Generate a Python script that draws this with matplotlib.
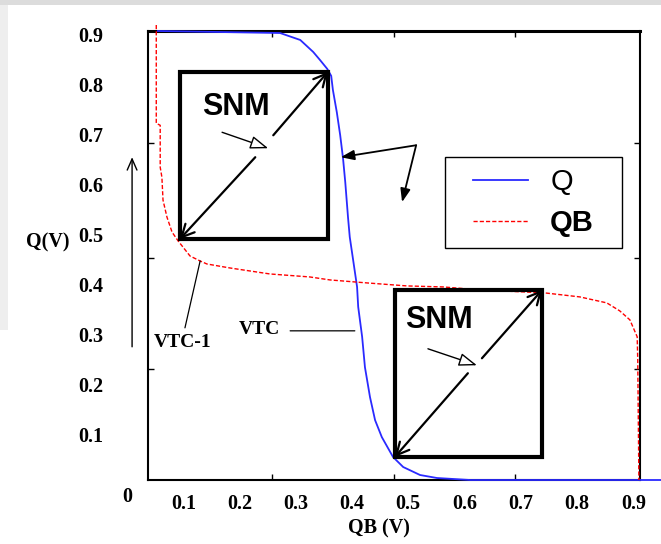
import numpy as np
import matplotlib.pyplot as plt
from matplotlib.patches import Rectangle
from matplotlib.transforms import ScaledTranslation

# VTC curve (Q vs QB)
q_x = [0.055, 0.272, 0.308, 0.331, 0.343, 0.356, 0.363, 0.366, 0.373, 0.379,
       0.384, 0.388, 0.393, 0.396, 0.402, 0.409, 0.411, 0.418, 0.423, 0.432,
       0.441, 0.453, 0.473, 0.491, 0.521, 0.551, 0.610, 0.949]
q_y = [0.900, 0.896, 0.882, 0.858, 0.842, 0.824, 0.810, 0.782, 0.737, 0.691,
       0.645, 0.597, 0.525, 0.487, 0.441, 0.387, 0.347, 0.287, 0.226, 0.166,
       0.120, 0.086, 0.046, 0.026, 0.010, 0.004, 0.0, 0.0]

# VTC-1 curve (QB)
qb_x = [0.052, 0.052, 0.059, 0.059, 0.062, 0.064, 0.071, 0.080, 0.091, 0.112,
        0.130, 0.142, 0.183, 0.254, 0.325, 0.361, 0.427, 0.498, 0.562, 0.628,
        0.743, 0.805, 0.853, 0.876, 0.894, 0.907, 0.908, 0.910]
qb_y = [0.912, 0.715, 0.711, 0.627, 0.607, 0.561, 0.527, 0.497, 0.479, 0.449,
        0.439, 0.433, 0.425, 0.413, 0.407, 0.401, 0.395, 0.389, 0.387, 0.381,
        0.375, 0.367, 0.355, 0.339, 0.321, 0.287, 0.240, 0.0]

tick_vals = [0.1, 0.2, 0.3, 0.4, 0.5, 0.6, 0.7, 0.8, 0.9]
tick_labels = ['0.1', '0.2', '0.3', '0.4', '0.5', '0.6', '0.7', '0.8', '0.9']
minor_x = [0.258, 0.475, 0.690]
minor_y = [0.222, 0.445, 0.675]

# SNM squares (lower-left, upper-right)
snm_boxes = [((0.094, 0.483), (0.357, 0.818)),
             ((0.476, 0.046), (0.738, 0.381))]

plt.rcParams['font.family'] = 'Liberation Serif'
plt.rcParams['font.weight'] = 'bold'

fig = plt.figure(figsize=(6.61, 5.44), dpi=100)
# faint grey edges of the scanned picture
fig.add_artist(Rectangle((0, 1 - 5/544), 1, 5/544, transform=fig.transFigure,
                         color='#dcdcdc', lw=0, zorder=0))
fig.add_artist(Rectangle((0, 1 - 330/544), 8/661, 325/544, transform=fig.transFigure,
                         color='#eeeeee', lw=0, zorder=0))

ax = fig.add_axes([148/661, 64/544, 492/661, 449/544])
ax.plot(q_x, q_y, color='#2a2aff', lw=1.3, clip_on=False, label='Q', zorder=3)
ax.plot(qb_x, qb_y, color='red', lw=1.0, ls=(0, (3, 1.5)), clip_on=False, label='QB', zorder=3)

ax.set_xlim(0.0373, 0.912)
ax.set_ylim(0, 0.9)

for s in ax.spines.values():
    s.set_linewidth(1.5)
ax.spines['top'].set_linewidth(2.2)

ax.set_xticks(tick_vals)
ax.set_xticklabels(tick_labels)
ax.set_yticks(tick_vals)
ax.set_yticklabels(tick_labels)
ax.set_xticks(minor_x, minor=True)
ax.set_yticks(minor_y, minor=True)
ax.tick_params(which='major', length=0, labelsize=14.5)
ax.tick_params(axis='y', which='major', pad=32)
ax.tick_params(axis='x', which='major', pad=10)
ax.tick_params(which='minor', direction='in', length=4, width=1,
               top=True, right=True)
off = ScaledTranslation(0, -0.04, fig.dpi_scale_trans)
for lab in ax.get_yticklabels():
    lab.set_transform(lab.get_transform() + off)

ax.set_ylabel('Q(V)', rotation=0, fontsize=14.5, fontweight='bold',
              ha='center', va='center')
ax.yaxis.set_label_coords(-0.203, 0.529)
ax.set_xlabel('QB (V)', fontsize=14.5, fontweight='bold', va='center')
ax.xaxis.set_label_coords(0.47, -0.109)
ax.text(0.0, -0.034, '0', fontsize=14.5, ha='center', va='center')

# legend: entries without frame, frame drawn as a box around them
leg = ax.legend(loc='center', bbox_to_anchor=(0.7835, 0.618),
                prop={'family': 'Liberation Sans', 'size': 21},
                frameon=False, handlelength=1.9, handletextpad=0.75,
                borderpad=0.5, labelspacing=0.45, borderaxespad=0)
leg.get_texts()[0].set_fontweight('normal')
leg.get_texts()[1].set_fontweight('bold')
ax.add_patch(Rectangle((0.604, 0.517), 0.359, 0.202, transform=ax.transAxes,
                       fill=False, ec='black', lw=1.0, zorder=5))

# SNM boxes with diagonal arrows
diag = dict(arrowstyle='->,head_length=0.9,head_width=0.45', lw=1.6,
            color='black', shrinkA=0, shrinkB=0)
ptr = dict(arrowstyle='-|>,head_length=1.1,head_width=0.4', lw=1.0,
           fc='white', ec='black', shrinkA=0, shrinkB=0)
for (x0, y0), (x1, y1) in snm_boxes:
    ax.add_patch(Rectangle((x0, y0), x1 - x0, y1 - y0, fill=False, lw=3,
                           ec='black', zorder=4))

ax.annotate('', xy=(0.094, 0.483), xytext=(0.228, 0.647), arrowprops=diag)
ax.annotate('', xy=(0.357, 0.818), xytext=(0.260, 0.691), arrowprops=diag)
ax.annotate('', xy=(0.251, 0.665), xytext=(0.169, 0.697), arrowprops=ptr)
ax.annotate('', xy=(0.476, 0.046), xytext=(0.606, 0.214), arrowprops=diag)
ax.annotate('', xy=(0.738, 0.381), xytext=(0.631, 0.244), arrowprops=diag)
ax.annotate('', xy=(0.622, 0.230), xytext=(0.535, 0.263), arrowprops=ptr)

ax.text(0.194, 0.747, 'SNM', family='Liberation Sans', fontsize=22,
        fontweight='bold', ha='center', va='center')
ax.text(0.555, 0.321, 'SNM', family='Liberation Sans', fontsize=22,
        fontweight='bold', ha='center', va='center')

# kinked pointer arrows
kink = dict(arrowstyle='-|>,head_length=0.8,head_width=0.3', lw=1.3,
            color='black', shrinkA=0, shrinkB=0)
ax.annotate('', xy=(0.380, 0.647), xytext=(0.514, 0.671), arrowprops=kink)
ax.annotate('', xy=(0.489, 0.557), xytext=(0.514, 0.671), arrowprops=kink)

# curve labels
ax.text(0.098, 0.275, 'VTC-1', fontsize=14, ha='center', va='center')
ax.text(0.236, 0.301, 'VTC', fontsize=14, ha='center', va='center')
lead = dict(arrowstyle='-', lw=0.9, color='black', shrinkA=0, shrinkB=0)
ax.annotate('', xy=(0.130, 0.439), xytext=(0.103, 0.305), arrowprops=lead)
ax.annotate('', xy=(0.405, 0.299), xytext=(0.290, 0.299), arrowprops=lead)

# upward arrow left of the axis
ax.annotate('', xy=(0.009, 0.647), xytext=(0.009, 0.267), annotation_clip=False,
            arrowprops=dict(arrowstyle='->,head_length=0.8,head_width=0.35',
                            lw=1.0, color='black', shrinkA=0, shrinkB=0))

fig.savefig('out.png', dpi=100)
